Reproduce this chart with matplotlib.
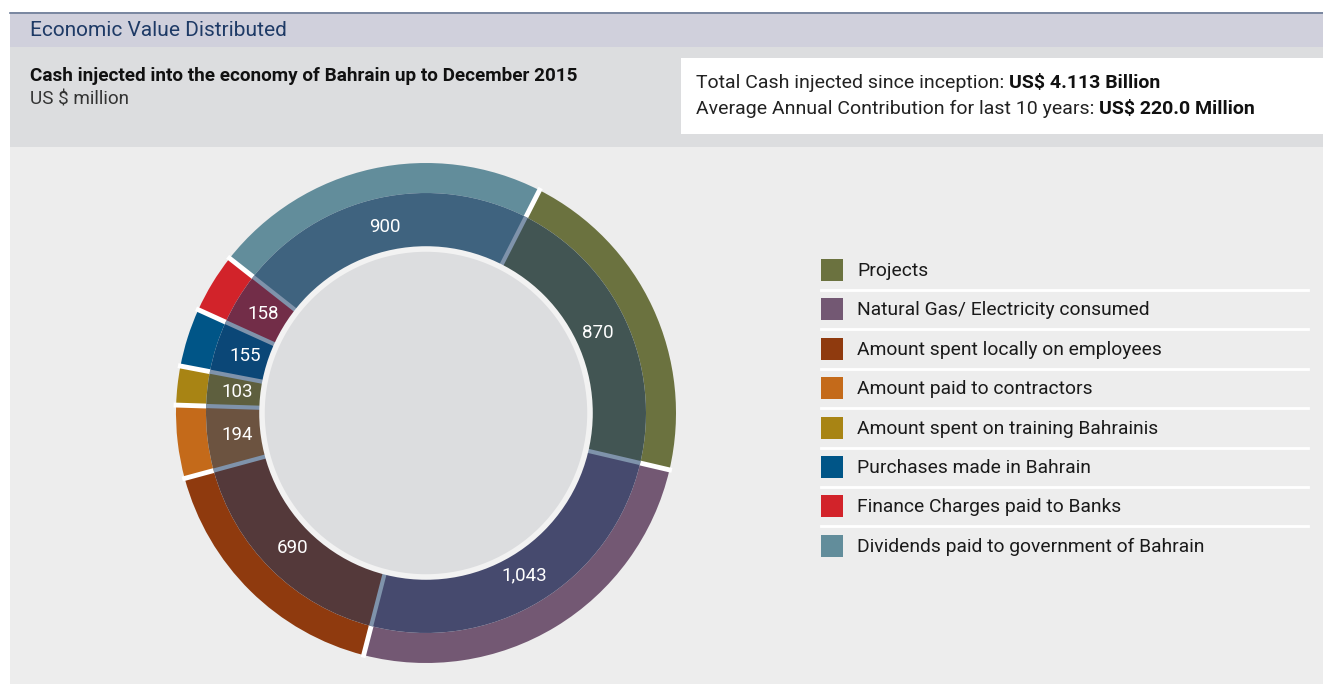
import matplotlib.pyplot as plt
from matplotlib.patches import Rectangle, Circle
import numpy as np

# data
categories = [
    "Projects",
    "Natural Gas/ Electricity consumed",
    "Amount spent locally on employees",
    "Amount paid to contractors",
    "Amount spent on training Bahrainis",
    "Purchases made in Bahrain",
    "Finance Charges paid to Banks",
    "Dividends paid to government of Bahrain",
]
values = [870, 1043, 690, 194, 103, 155, 158, 900]
outer_colors = ["#6b723f", "#735873", "#8f3a0e", "#c46a1a",
                "#a88414", "#005587", "#d2232a", "#628d9b"]
inner_colors = ["#425553", "#464a6e", "#54393a", "#6c5340",
                "#5e5f3e", "#0b4777", "#722d48", "#3f637f"]

title = "Economic Value Distributed"
subtitle = "Cash injected into the economy of Bahrain up to December 2015"
unit = "US $ million"
facts = [("Total Cash injected since inception: ", "US$ 4.113 Billion"),
         ("Average Annual Contribution for last 10 years: ", "US$ 220.0 Million")]

plt.rcParams["font.family"] = ["Roboto", "DejaVu Sans"]

W, H = 1323, 684
fig = plt.figure(figsize=(W / 100, H / 100), dpi=100)
fig.patch.set_facecolor("white")

# background panels in pixel coords
bg = fig.add_axes([0, 0, 1, 1])
bg.set_xlim(0, W)
bg.set_ylim(H, 0)
bg.axis("off")
bg.add_patch(Rectangle((10, 12), W - 10, 35, color="#d0d0dc", lw=0))
bg.plot([10, W], [12.5, 12.5], color="#6a7a96", lw=1.2)
bg.add_patch(Rectangle((10, 47), W - 10, 100, color="#dcdddf", lw=0))
bg.add_patch(Rectangle((10, 147), W - 10, H - 147, color="#ededed", lw=0))
bg.add_patch(Rectangle((681, 58), W - 681, 76, color="white", lw=0))

bg.text(30, 31, title, fontsize=15, color="#1e3a66", va="center")
bg.text(30, 76, subtitle, fontsize=13.6, fontweight="bold", color="#111111", va="center")
bg.text(30, 99, unit, fontsize=13.6, color="#333333", va="center")

fig.canvas.draw()
renderer = fig.canvas.get_renderer()
for (reg, bold), y in zip(facts, [83, 109]):
    t = bg.text(696, y, reg, fontsize=14, color="#222222", va="center")
    ext = t.get_window_extent(renderer)
    x_end = bg.transData.inverted().transform((ext.x1, ext.y0))[0]
    bg.text(x_end, y, bold, fontsize=14, fontweight="bold", color="#111111", va="center")

# legend
row_h = 39.4
for i, (cat, col) in enumerate(zip(categories, outer_colors)):
    yc = 270 + i * row_h
    bg.add_patch(Rectangle((821, yc - 11), 22, 22, color=col, lw=0))
    bg.text(857, yc + 1, cat, fontsize=13.9, color="#1a1a1a", va="center")
    if i < len(categories) - 1:
        bg.plot([821, 1308], [yc + 20, yc + 20], color="white", lw=2)

# donut
cx, cy, R = 426, 413, 250
half = 262
ax = fig.add_axes([(cx - half) / W, (H - cy - half) / H, 2 * half / W, 2 * half / H])
ax.set_facecolor("none")

r_out, r_mid, r_in = 1.0, 220 / R, 164 / R
start = 63
ax.pie(values, radius=r_out, colors=outer_colors, startangle=start, counterclock=False,
       wedgeprops=dict(width=r_out - r_mid, linewidth=0))
ax.pie(values, radius=r_mid, colors=inner_colors, startangle=start, counterclock=False,
       wedgeprops=dict(width=r_mid - r_in, linewidth=0))

total = sum(values)
bounds = start - np.concatenate([[0], np.cumsum(values)]) / total * 360
for b in bounds[:-1]:
    a = np.deg2rad(b)
    ax.plot([r_mid * np.cos(a), 1.01 * np.cos(a)], [r_mid * np.sin(a), 1.01 * np.sin(a)],
            color="white", lw=3.5, solid_capstyle="butt")
    ax.plot([r_in * np.cos(a), r_mid * np.cos(a)], [r_in * np.sin(a), r_mid * np.sin(a)],
            color="#7f93ab", lw=3, solid_capstyle="butt")

ax.add_patch(Circle((0, 0), r_in, facecolor="#dcdddf", edgecolor="#f2f2f2", lw=4, zorder=5))

r_lab = 190 / R
for v, b0, b1 in zip(values, bounds[:-1], bounds[1:]):
    a = np.deg2rad((b0 + b1) / 2)
    ax.text(r_lab * np.cos(a), r_lab * np.sin(a), f"{v:,}", color="white",
            fontsize=13.5, ha="center", va="center", zorder=6)

lim = half / R
ax.set_xlim(-lim, lim)
ax.set_ylim(-lim, lim)
ax.axis("off")

fig.savefig("out.png", dpi=100, facecolor=fig.get_facecolor())
